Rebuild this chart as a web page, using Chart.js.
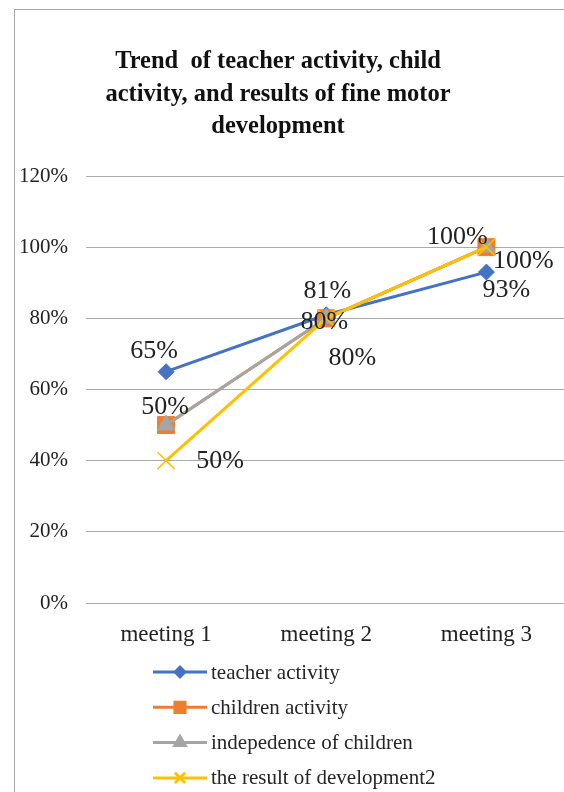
<!DOCTYPE html>
<html lang="en">
<head>
<meta charset="UTF-8">
<title>Trend chart</title>
<style>
  html, body { margin: 0; padding: 0; overflow: hidden; background: #fff; }
  .frame {
    position: absolute; left: 14px; top: 9px; width: 620px; height: 820px;
    border-left: 1px solid #a6a6a6; border-top: 1px solid #a6a6a6;
  }
  #myChart { position: absolute; left: 0; top: 0; }
</style>
<script src="https://cdn.jsdelivr.net/npm/chart.js"></script>
</head>
<body>
<div class="frame"></div>
<canvas id="myChart" width="580" height="800"></canvas>
<script>
// data
const categories = ['meeting 1', 'meeting 2', 'meeting 3'];
const teacherActivity = [0.65, 0.81, 0.93];
const childrenActivity = [0.50, 0.80, 1.00];
const independence = [0.50, 0.80, 1.00];
const developmentResult = [0.40, 0.80, 1.00];

// data label texts as printed in the picture
const teacherLabels = ['65%', '81%', '93%'];
const childrenLabels = ['50%', '80%', '100%'];
const developmentLabels = ['50%', '80%', '100%'];

const titleLines = ['Trend  of teacher activity, child', 'activity, and results of fine motor', 'development'];

const serif = '"Liberation Serif", "Times New Roman", serif';

// title drawn by hand so it can sit where the original has it
const titlePlugin = {
  id: 'titleText',
  afterDraw(chart) {
    const ctx = chart.ctx;
    ctx.save();
    ctx.fillStyle = '#111';
    ctx.font = 'bold 24.5px ' + serif;
    ctx.textAlign = 'center';
    ctx.textBaseline = 'middle';
    titleLines.forEach((t, i) => ctx.fillText(t, 278, 62 + i * 32.5));
    ctx.restore();
  }
};

// data labels with one offset per point
const labelPlugin = {
  id: 'pointLabels',
  afterDatasetsDraw(chart, args, opts) {
    const ctx = chart.ctx;
    ctx.save();
    ctx.fillStyle = '#222';
    ctx.font = '26px ' + serif;
    ctx.textAlign = 'center';
    ctx.textBaseline = 'middle';
    chart.data.datasets.forEach((ds, i) => {
      if (!ds.labelTexts) return;
      const meta = chart.getDatasetMeta(i);
      meta.data.forEach((pt, j) => {
        const off = opts.offsets[i][j];
        ctx.fillText(ds.labelTexts[j], pt.x + off[0], pt.y + off[1]);
      });
    });
    ctx.restore();
  }
};

// vertical legend under the axis
const legendPlugin = {
  id: 'vertLegend',
  afterDraw(chart) {
    const ctx = chart.ctx;
    ctx.save();
    chart.data.datasets.forEach((ds, i) => {
      const y = 672 + i * 35.3;
      ctx.strokeStyle = ds.borderColor;
      ctx.lineWidth = 3;
      ctx.beginPath();
      ctx.moveTo(153, y);
      ctx.lineTo(207, y);
      ctx.stroke();
      ctx.fillStyle = ds.pointBackgroundColor;
      ctx.strokeStyle = ds.pointBorderColor;
      Chart.helpers.drawPoint(ctx, {
        pointStyle: ds.pointStyle,
        radius: ds.pointRadius * 0.6,
        rotation: 0,
        borderWidth: ds.pointBorderWidth
      }, 180, y);
      ctx.fillStyle = '#262626';
      ctx.font = '21px ' + serif;
      ctx.textAlign = 'left';
      ctx.textBaseline = 'middle';
      ctx.fillText(ds.label, 211, y + 1);
    });
    ctx.restore();
  }
};

const data = {
  labels: categories,
  datasets: [{
    label: 'teacher activity',
    data: teacherActivity,
    labelTexts: teacherLabels,
    borderColor: '#4472C4',
    pointBackgroundColor: '#4472C4',
    pointBorderColor: '#4472C4',
    pointStyle: 'rectRot',
    pointRadius: 8,
    pointBorderWidth: 1,
    borderWidth: 3,
    order: 4
  }, {
    label: 'children activity',
    data: childrenActivity,
    labelTexts: childrenLabels,
    borderColor: '#ED7D31',
    pointBackgroundColor: '#ED7D31',
    pointBorderColor: '#ED7D31',
    pointStyle: 'rect',
    pointRadius: 12,
    pointBorderWidth: 1,
    borderWidth: 3,
    order: 3
  }, {
    label: 'indepedence of children',
    data: independence,
    borderColor: '#A5A5A5',
    pointBackgroundColor: '#A5A5A5',
    pointBorderColor: '#A5A5A5',
    pointStyle: 'triangle',
    pointRadius: 10,
    pointBorderWidth: 1,
    borderWidth: 3,
    order: 2
  }, {
    label: 'the result of development2',
    data: developmentResult,
    labelTexts: developmentLabels,
    borderColor: '#FFC000',
    pointBackgroundColor: '#FFC000',
    pointBorderColor: '#FFC000',
    pointStyle: 'crossRot',
    pointRadius: 12,
    pointBorderWidth: 1.5,
    borderWidth: 3,
    order: 1
  }]
};

const config = {
  type: 'line',
  data: data,
  plugins: [titlePlugin, labelPlugin, legendPlugin],
  options: {
    responsive: false,
    animation: false,
    layout: { padding: { top: 176, left: 0, right: 9, bottom: 137 } },
    plugins: {
      legend: { display: false },
      title: { display: false },
      tooltip: { enabled: false },
      pointLabels: {
        offsets: [
          [[-12, -21], [1, -24], [20, 18]],
          [[-1, -18], [-2, 4], [-29, -10]],
          [[0, 0], [0, 0], [0, 0]],
          [[54, 1], [26, 40], [37, 14]]
        ]
      }
    },
    scales: {
      x: {
        offset: true,
        grid: { display: false },
        border: { display: false },
        ticks: { color: '#222', font: { family: serif, size: 23 }, padding: 10 },
        afterFit(scale) { scale.height = 60; }
      },
      y: {
        min: 0,
        max: 1.2,
        grid: { color: '#aaaaaa', lineWidth: 1, drawTicks: false },
        border: { display: false },
        ticks: {
          stepSize: 0.2,
          color: '#222',
          font: { family: serif, size: 21 },
          padding: 18,
          callback: v => Math.round(v * 100) + '%'
        },
        afterFit(scale) { scale.width = 86; }
      }
    }
  }
};

const myChart = new Chart(document.getElementById('myChart'), config);
</script>
</body>
</html>
